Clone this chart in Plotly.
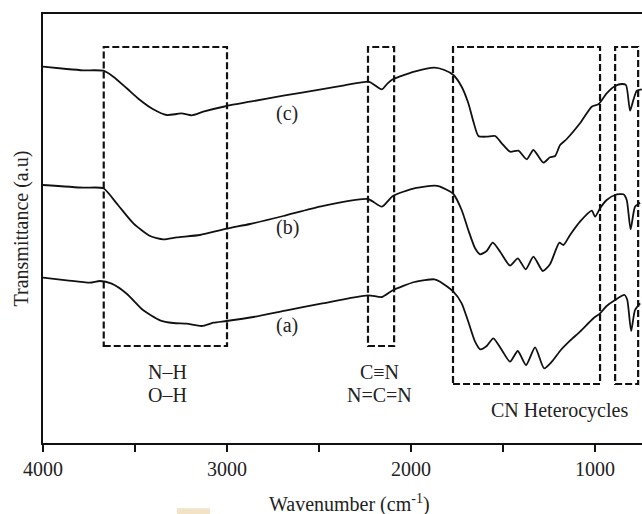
import plotly.graph_objects as go

# ---- data (wavenumber in cm^-1, transmittance in arbitrary units) ----
wn_c = [4000, 3871, 3781, 3672, 3618, 3545, 3473, 3401, 3328, 3273, 3246, 3192, 3129, 3002,
        2875, 2694, 2489, 2362, 2235, 2217, 2158, 2127, 2099, 1982, 1873, 1819, 1770, 1725,
        1689, 1661, 1634, 1589, 1543, 1507, 1462, 1417, 1371, 1335, 1281, 1245, 1217, 1190,
        1154, 1082, 1018, 982, 937, 891, 855, 832, 810, 792, 773, 746]
tr_c = [376.3, 374, 372.7, 372.3, 366.3, 354.7, 343, 333.7, 328, 329, 329.7, 327.7, 331.3, 337,
        341.3, 347.3, 353.7, 357.7, 361.3, 360.3, 353.7, 359.7, 363.7, 371.3, 375.3, 373, 368, 356.3,
        340, 321.3, 307, 306.3, 307, 299.7, 291.3, 292.3, 283.7, 293, 280.3, 285.7, 287, 298,
        304, 319.7, 336.3, 338.7, 349.7, 357, 359, 358, 332.3, 343, 352.3, 353.7]

wn_b = [4000, 3781, 3672, 3600, 3509, 3418, 3346, 3273, 3147, 3002, 2875, 2694, 2489, 2235,
        2158, 2099, 1982, 1873, 1842, 1770, 1725, 1689, 1652, 1625, 1589, 1556, 1516, 1462,
        1420, 1377, 1335, 1284, 1245, 1194, 1172, 1136, 1082, 1018, 1000, 973, 937, 891,
        846, 828, 807, 783, 755]
tr_b = [258, 255.3, 254.7, 239.7, 219.7, 207, 203.7, 205.7, 208, 214.3, 219, 227, 236.7, 244,
        236.3, 247, 254.7, 257.3, 256.3, 249, 233, 213, 194.7, 188.7, 192, 200.3, 191.3, 177.3,
        184.7, 173.7, 186.3, 172, 178.7, 200.3, 198, 208, 221.3, 232.3, 226.3, 234.7, 243, 248,
        248.7, 243, 213.7, 236.3, 240.3]

wn_a = [4000, 3871, 3745, 3690, 3627, 3545, 3455, 3364, 3292, 3219, 3137, 3074, 3002, 2857,
        2676, 2489, 2235, 2158, 2099, 1982, 1873, 1842, 1770, 1725, 1689, 1652, 1625, 1589,
        1553, 1507, 1462, 1420, 1375, 1326, 1277, 1235, 1186, 1136, 1082, 1009, 973, 937,
        891, 840, 825, 804, 783, 755]
tr_a = [165.3, 162.7, 160.3, 162, 159.3, 149.3, 132.7, 122.7, 120, 119.3, 117, 120.3, 122, 126,
        132.7, 139.3, 147.7, 146, 152.7, 161, 163.7, 161.3, 151.3, 139.7, 121.3, 101.3, 93.7, 97,
        104.7, 93, 81.3, 92, 78, 95.7, 74.7, 81.3, 93, 102.3, 111.3, 124.7, 129.7, 137,
        143, 148, 143, 112, 133, 139.7]

curve_labels = ["(c)", "(b)", "(a)"]
curve_label_wn = [2674, 2674, 2674]
curve_label_tr = [330, 216, 118]

# highlighted regions: [wn_left, wn_right, tr_bottom, tr_top]
box_wn_left = [3670, 2234, 1772, 891]
box_wn_right = [3000, 2092, 973, 766]
box_tr_bottom = [97, 97, 59, 59]
box_tr_top = [396, 396, 396, 396]

region_texts = ["N–H", "O–H", "C≡N", "N=C=N", "CN Heterocycles"]
region_wn = [3321, 3321, 2174, 2174, 1196]
region_tr = [71, 48, 71, 48, 33]

major_ticks = [4000, 3000, 2000, 1000]
major_labels = ["4000", "3000", "2000", "1000"]
minor_ticks = [3500, 2500, 1500]

FONT = "Liberation Serif"
TXT = "#222222"

fig = go.Figure()
for wn, tr in [(wn_c, tr_c), (wn_b, tr_b), (wn_a, tr_a)]:
    fig.add_trace(go.Scatter(x=wn, y=tr, mode="lines",
                             line=dict(color="#111111", width=1.8, shape="spline", smoothing=0.6),
                             showlegend=False, hoverinfo="skip"))

shapes = []
for x0, x1, y0, y1 in zip(box_wn_left, box_wn_right, box_tr_bottom, box_tr_top):
    shapes.append(dict(type="rect", xref="x", yref="y", x0=x0, x1=x1, y0=y0, y1=y1,
                       line=dict(color="#111111", width=2.2, dash="7px,3px"),
                       fillcolor="rgba(0,0,0,0)"))
# small beige mark at the bottom of the source image
shapes.append(dict(type="rect", xref="paper", yref="paper", x0=0.2237, x1=0.2788,
                   y0=-0.170, y1=-0.152, line=dict(width=0), fillcolor="#f2e2c6", layer="below"))

annotations = []
for t, x, y in zip(curve_labels, curve_label_wn, curve_label_tr):
    annotations.append(dict(text=t, x=x, y=y, xref="x", yref="y", showarrow=False,
                            font=dict(family=FONT, size=20, color=TXT)))
for t, x, y in zip(region_texts, region_wn, region_tr):
    annotations.append(dict(text=t, x=x, y=y, xref="x", yref="y", showarrow=False,
                            font=dict(family=FONT, size=20, color=TXT)))
annotations.append(dict(text="Wavenumber (cm<sup>-1</sup>)", x=0.511, y=0, xref="paper", yref="paper",
                        yshift=-60, xanchor="center", yanchor="middle", showarrow=False,
                        font=dict(family=FONT, size=20, color=TXT)))
annotations.append(dict(text="Transmittance (a.u)", x=0, y=0.5, xref="paper", yref="paper",
                        xshift=-22, xanchor="center", yanchor="middle", textangle=-90, showarrow=False,
                        font=dict(family=FONT, size=20, color=TXT)))

fig.update_layout(
    width=642, height=514,
    margin=dict(l=43, r=0, t=14, b=71),
    paper_bgcolor="white", plot_bgcolor="white",
    font=dict(family=FONT, size=20, color=TXT),
    shapes=shapes, annotations=annotations,
    xaxis=dict(range=[4000, 745], showgrid=False, zeroline=False,
               showline=True, linecolor="#111111", linewidth=1.6, mirror=True,
               ticks="outside", ticklen=7, tickwidth=1.6, tickcolor="#111111",
               tickmode="array", tickvals=major_ticks, ticktext=major_labels,
               tickfont=dict(family=FONT, size=20, color=TXT),
               minor=dict(tickmode="array", tickvals=minor_ticks, ticks="outside",
                          ticklen=7, tickwidth=1.6, tickcolor="#111111", showgrid=False)),
    yaxis=dict(range=[0, 429], showgrid=False, zeroline=False,
               showline=True, linecolor="#111111", linewidth=1.6,
               ticks="", showticklabels=False),
)

# remove the page's default body margin so the figure fills the window exactly
fig.write_html("out.html",
               config={"displayModeBar": False, "staticPlot": True},
               post_script="document.body.style.margin='0';document.body.style.overflow='hidden';")
